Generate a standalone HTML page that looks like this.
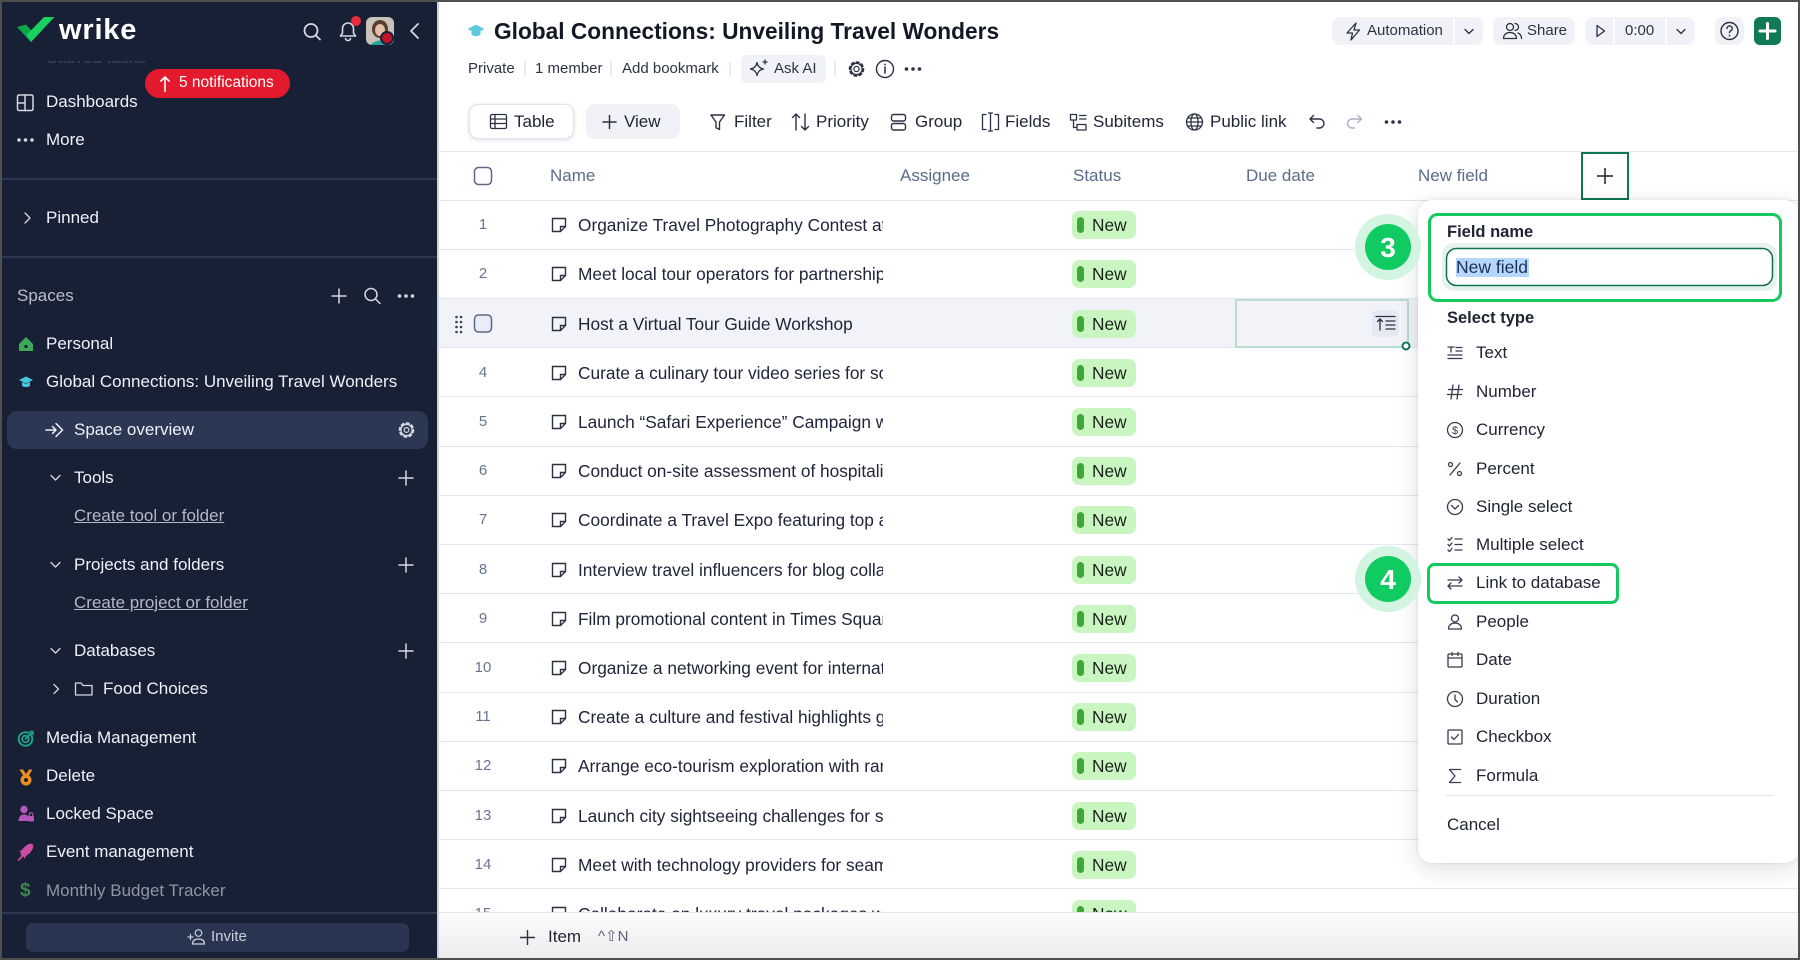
<!DOCTYPE html>
<html><head><meta charset="utf-8">
<style>
*{margin:0;padding:0;box-sizing:border-box}
body{width:1800px;height:960px;overflow:hidden;position:relative;background:#fff;font-family:"Liberation Sans",Arial,sans-serif}
.a{position:absolute;white-space:nowrap}
.s{font-size:17px;line-height:20px;color:#eef1f7}
.m{font-size:17px;line-height:20px;color:#1f2534}
.h{font-size:17px;line-height:20px;color:#5b6b8b}
.sm{font-size:15px;line-height:20px;color:#2c3344}
.row{position:absolute;left:439px;width:1361px;height:49.2px;border-bottom:1px solid #e4e7ef}
.row.hov{background:#f1f3f8}
.num{position:absolute;left:29px;width:30px;text-align:center;top:14.6px;font-size:15px;line-height:20px;color:#68748e}
.tx{position:absolute;left:139px;top:14.6px;width:305px;overflow:hidden;white-space:nowrap;font-size:17.3px;line-height:20px;color:#20263a}
.ti{position:absolute;left:112px;top:16.6px}
.pill{position:absolute;left:633px;top:10.6px;width:64px;height:28px;border-radius:7px;background:#c9f5c1}
.pill i{position:absolute;left:5px;top:6px;width:7px;height:16px;border-radius:3.5px;background:#40a636}
.pill b{position:absolute;left:20px;top:4px;font-weight:normal;font-size:17.3px;line-height:20px;color:#1b221b}
.pt{font-size:17px;line-height:20px;color:#1e2432}
</style></head><body>

<!-- ============ MAIN ROWS ============ -->
<div class="row" style="top:200.7px"><div class="num">1</div><svg class="ti" width="16" height="16"><path d="M1.5 1.5h13v8l-5 5h-8z M14.5 9.5h-5v5" fill="none" stroke="#2a3142" stroke-width="1.4"/></svg><div class="tx">Organize Travel Photography Contest at Iconic Landmarks</div><div class="pill"><i></i><b>New</b></div></div>
<div class="row" style="top:249.9px"><div class="num">2</div><svg class="ti" width="16" height="16"><path d="M1.5 1.5h13v8l-5 5h-8z M14.5 9.5h-5v5" fill="none" stroke="#2a3142" stroke-width="1.4"/></svg><div class="tx">Meet local tour operators for partnerships</div><div class="pill"><i></i><b>New</b></div></div>
<div class="row hov" style="top:299.1px"><svg class="ti" width="16" height="16"><path d="M1.5 1.5h13v8l-5 5h-8z M14.5 9.5h-5v5" fill="none" stroke="#2a3142" stroke-width="1.4"/></svg><div class="tx">Host a Virtual Tour Guide Workshop</div><div class="pill"><i></i><b>New</b></div></div>
<div class="row" style="top:348.3px"><div class="num">4</div><svg class="ti" width="16" height="16"><path d="M1.5 1.5h13v8l-5 5h-8z M14.5 9.5h-5v5" fill="none" stroke="#2a3142" stroke-width="1.4"/></svg><div class="tx">Curate a culinary tour video series for social media</div><div class="pill"><i></i><b>New</b></div></div>
<div class="row" style="top:397.5px"><div class="num">5</div><svg class="ti" width="16" height="16"><path d="M1.5 1.5h13v8l-5 5h-8z M14.5 9.5h-5v5" fill="none" stroke="#2a3142" stroke-width="1.4"/></svg><div class="tx">Launch “Safari Experience” Campaign with influencers</div><div class="pill"><i></i><b>New</b></div></div>
<div class="row" style="top:446.7px"><div class="num">6</div><svg class="ti" width="16" height="16"><path d="M1.5 1.5h13v8l-5 5h-8z M14.5 9.5h-5v5" fill="none" stroke="#2a3142" stroke-width="1.4"/></svg><div class="tx">Conduct on-site assessment of hospitality partners</div><div class="pill"><i></i><b>New</b></div></div>
<div class="row" style="top:495.9px"><div class="num">7</div><svg class="ti" width="16" height="16"><path d="M1.5 1.5h13v8l-5 5h-8z M14.5 9.5h-5v5" fill="none" stroke="#2a3142" stroke-width="1.4"/></svg><div class="tx">Coordinate a Travel Expo featuring top agencies</div><div class="pill"><i></i><b>New</b></div></div>
<div class="row" style="top:545.1px"><div class="num">8</div><svg class="ti" width="16" height="16"><path d="M1.5 1.5h13v8l-5 5h-8z M14.5 9.5h-5v5" fill="none" stroke="#2a3142" stroke-width="1.4"/></svg><div class="tx">Interview travel influencers for blog collaboration</div><div class="pill"><i></i><b>New</b></div></div>
<div class="row" style="top:594.3px"><div class="num">9</div><svg class="ti" width="16" height="16"><path d="M1.5 1.5h13v8l-5 5h-8z M14.5 9.5h-5v5" fill="none" stroke="#2a3142" stroke-width="1.4"/></svg><div class="tx">Film promotional content in Times Square</div><div class="pill"><i></i><b>New</b></div></div>
<div class="row" style="top:643.5px"><div class="num">10</div><svg class="ti" width="16" height="16"><path d="M1.5 1.5h13v8l-5 5h-8z M14.5 9.5h-5v5" fill="none" stroke="#2a3142" stroke-width="1.4"/></svg><div class="tx">Organize a networking event for international partners</div><div class="pill"><i></i><b>New</b></div></div>
<div class="row" style="top:692.7px"><div class="num">11</div><svg class="ti" width="16" height="16"><path d="M1.5 1.5h13v8l-5 5h-8z M14.5 9.5h-5v5" fill="none" stroke="#2a3142" stroke-width="1.4"/></svg><div class="tx">Create a culture and festival highlights guide</div><div class="pill"><i></i><b>New</b></div></div>
<div class="row" style="top:741.9px"><div class="num">12</div><svg class="ti" width="16" height="16"><path d="M1.5 1.5h13v8l-5 5h-8z M14.5 9.5h-5v5" fill="none" stroke="#2a3142" stroke-width="1.4"/></svg><div class="tx">Arrange eco-tourism exploration with rangers</div><div class="pill"><i></i><b>New</b></div></div>
<div class="row" style="top:791.1px"><div class="num">13</div><svg class="ti" width="16" height="16"><path d="M1.5 1.5h13v8l-5 5h-8z M14.5 9.5h-5v5" fill="none" stroke="#2a3142" stroke-width="1.4"/></svg><div class="tx">Launch city sightseeing challenges for students</div><div class="pill"><i></i><b>New</b></div></div>
<div class="row" style="top:840.3px"><div class="num">14</div><svg class="ti" width="16" height="16"><path d="M1.5 1.5h13v8l-5 5h-8z M14.5 9.5h-5v5" fill="none" stroke="#2a3142" stroke-width="1.4"/></svg><div class="tx">Meet with technology providers for seamless booking</div><div class="pill"><i></i><b>New</b></div></div>
<div class="row" style="top:889.5px"><div class="num">15</div><svg class="ti" width="16" height="16"><path d="M1.5 1.5h13v8l-5 5h-8z M14.5 9.5h-5v5" fill="none" stroke="#2a3142" stroke-width="1.4"/></svg><div class="tx">Collaborate on luxury travel packages with hotels</div><div class="pill"><i></i><b>New</b></div></div>

<!-- header lines -->
<div class="a" style="left:439px;top:151px;width:1361px;height:1px;background:#e4e7ef"></div>
<div class="a" style="left:439px;top:200px;width:1361px;height:1px;background:#e2e5ee"></div>

<!-- main svg icons -->
<svg class="a" style="left:0;top:0" width="1800" height="960" fill="none" stroke="#2a3142" stroke-width="1.5" stroke-linecap="round" stroke-linejoin="round">
 <path d="M469 29 L476 25.5 L483 29 L476 32.5 Z" fill="#5ccbe0" stroke="#5ccbe0"/>
 <path d="M472 31 v3.5 q4 2.2 8 0 v-3.5 l-4 2 z" fill="#5ccbe0" stroke="#5ccbe0" stroke-width="1"/>
 <g stroke="#d6d9e1" stroke-width="1"><path d="M525 62v14 M611 62v14 M730 62v14 M835 62v14"/></g>
 <rect x="741" y="55" width="85" height="28" rx="6" fill="#f0f2f7" stroke="none"/>
 <path d="M757 62.5 q1 5.5 6.5 6.5 q-5.5 1 -6.5 6.5 q-1 -5.5 -6.5 -6.5 q5.5 -1 6.5 -6.5z M765 60v4 M763 62h4" stroke-width="1.3"/>
 <circle cx="856.5" cy="69" r="2.6" stroke-width="1.3"/>
 <circle cx="856.5" cy="69" r="6.8" stroke-width="2" stroke-dasharray="2.4 2.9"/>
 <circle cx="856.5" cy="69" r="5.6" stroke-width="1.2"/>
 <circle cx="885" cy="69" r="8.5" stroke-width="1.4"/>
 <path d="M885 67v6 M885 64.3v0.3" stroke-width="1.6"/>
 <g fill="#2a3142" stroke="none"><circle cx="906.5" cy="69" r="1.8"/><circle cx="913" cy="69" r="1.8"/><circle cx="919.5" cy="69" r="1.8"/></g>

 <rect x="1332" y="17" width="151" height="28" rx="8" fill="#f0f2f7" stroke="none"/>
 <path d="M1454 17v28" stroke="#fff" stroke-width="1.5"/>
 <path d="M1356 23 L1347 33 h5.5 l-1.5 7 8.5 -10 h-5.5 z" stroke-width="1.3"/>
 <path d="M1465 29.5 l4 4 4 -4" stroke-width="1.3"/>
 <rect x="1493" y="17" width="82" height="28" rx="8" fill="#f0f2f7" stroke="none"/>
 <circle cx="1510" cy="27" r="3.5" stroke-width="1.3"/>
 <path d="M1503.5 38.5 c0-4 3-6 6.5-6 s6.5 2 6.5 6 z M1515 23.5 a3.5 3.5 0 0 1 0 7 M1518 33 c2 .8 3.5 2.5 3.5 5.5" stroke-width="1.3"/>
 <rect x="1585" y="17" width="110" height="28" rx="8" fill="#f0f2f7" stroke="none"/>
 <path d="M1614 17v28 M1666 17v28" stroke="#fff" stroke-width="1.5"/>
 <path d="M1597 25.5 v11 l7.5 -5.5 z" stroke-width="1.3"/>
 <path d="M1677 29.5 l4 4 4 -4" stroke-width="1.3"/>
 <rect x="1715" y="17" width="29" height="28" rx="8" fill="#f0f2f7" stroke="none"/>
 <circle cx="1729.5" cy="31" r="8.5" stroke-width="1.4"/>
 <path d="M1727 28.5 a2.6 2.6 0 1 1 3.6 2.4 c-.8.4 -1.1 .9 -1.1 1.8" stroke-width="1.4"/>
 <circle cx="1729.5" cy="35.6" r=".9" fill="#2a3142" stroke="none"/>
 <rect x="1754" y="17" width="27" height="28" rx="6" fill="#0f7a54" stroke="none"/>
 <path d="M1760 31h15 M1767.5 23.5v15" stroke="#fff" stroke-width="3"/>

 <rect x="586" y="104" width="94" height="35" rx="9" fill="#f0f2f7" stroke="none"/>
 <path d="M603 122h13 M609.5 115.5v13" stroke-width="1.5"/>
 <path d="M711 115 h13.5 l-5 7 v7.5 l-3.5 -1.8 v-5.7 z" stroke-width="1.4"/>
 <path d="M796 130V114 M792.5 117.5l3.5-3.5 3.5 3.5 M805 114v16 M801.5 126.5l3.5 3.5 3.5-3.5" stroke-width="1.4"/>
 <rect x="891.5" y="114.5" width="14" height="6.5" rx="2" stroke-width="1.4"/>
 <rect x="891.5" y="123.5" width="14" height="6.5" rx="2" stroke-width="1.4"/>
 <path d="M986 114.5h-3.5v15h3.5 M995 114.5h3.5v15h-3.5 M990.5 113v18 M988.5 113h4 M988.5 131h4" stroke-width="1.3"/>
 <path d="M1070.5 114.5h6v5.5h-6z M1073.5 120v7.5h3.5 M1079.5 115.5h6.5 M1079.5 119h6.5 M1077 124.5h9v5.5h-9z" stroke-width="1.3"/>
 <circle cx="1194.5" cy="122" r="8" stroke-width="1.3"/>
 <ellipse cx="1194.5" cy="122" rx="3.6" ry="8" stroke-width="1.3"/>
 <path d="M1186.5 122h16 M1188 118h13 M1188 126h13" stroke-width="1.2"/>
 <path d="M1313.5 115.5 l-3.5 3.5 3.5 3.5 M1310 119h9.5 a4.5 4.5 0 0 1 0 9 h-2.5" stroke-width="1.4"/>
 <path d="M1358 115.5 l3.5 3.5 -3.5 3.5 M1361.5 119h-9.5 a4.5 4.5 0 0 0 0 9 h2.5" stroke="#aab2c2" stroke-width="1.4"/>
 <g fill="#2a3142" stroke="none"><circle cx="1386.5" cy="122" r="1.8"/><circle cx="1393" cy="122" r="1.8"/><circle cx="1399.5" cy="122" r="1.8"/></g>

 <rect x="474.5" y="167.5" width="17" height="17" rx="4" stroke="#5b6884" stroke-width="1.5"/>

 <g fill="#3a4154" stroke="none">
  <circle cx="456.5" cy="317" r="1.3"/><circle cx="461" cy="317" r="1.3"/>
  <circle cx="456.5" cy="322" r="1.3"/><circle cx="461" cy="322" r="1.3"/>
  <circle cx="456.5" cy="327" r="1.3"/><circle cx="461" cy="327" r="1.3"/>
  <circle cx="456.5" cy="332" r="1.3"/><circle cx="461" cy="332" r="1.3"/>
 </g>
 <rect x="474.5" y="315" width="17" height="17" rx="4" fill="#e9edf7" stroke="#5b6884" stroke-width="1.5"/>
 <rect x="1236" y="300" width="172" height="47" fill="none" stroke="#b9dccf" stroke-width="2"/>
 <rect x="1372" y="310" width="27" height="27" rx="5" fill="#e5e9f2" stroke="none"/>
 <path d="M1376 316.5h19 M1380 330v-11 M1377.5 321.5l2.5-2.5 2.5 2.5 M1386 321h9 M1386 325h9 M1386 329h9" stroke-width="1.3"/>
 <circle cx="1406" cy="346" r="3.5" fill="#fff" stroke="#13785a" stroke-width="2"/>
</svg>

<div class="a" style="left:469px;top:104px;width:105px;height:35px;border-radius:9px;background:#fff;border:1px solid #dfe3ec;box-shadow:0 1px 4px rgba(40,60,120,.18)"></div>
<svg class="a" style="left:489px;top:113px" width="20" height="18" fill="none" stroke="#2a3142" stroke-width="1.3"><rect x="1.5" y="1.5" width="16" height="14" rx="1.5"/><path d="M1.5 6h16 M1.5 10.5h16 M6 1.5v14"/></svg>

<div class="a" style="left:494px;top:18px;font-size:22.7px;line-height:26px;font-weight:bold;color:#121826">Global Connections: Unveiling Travel Wonders</div>
<div class="a sm" style="left:468px;top:59px">Private</div>
<div class="a sm" style="left:535px;top:59px">1 member</div>
<div class="a sm" style="left:622px;top:59px">Add bookmark</div>
<div class="a sm" style="left:774px;top:59px">Ask AI</div>
<div class="a sm" style="left:1367px;top:21px">Automation</div>
<div class="a sm" style="left:1527px;top:21px">Share</div>
<div class="a sm" style="left:1625px;top:21px">0:00</div>
<div class="a m" style="left:514px;top:112px">Table</div>
<div class="a m" style="left:624px;top:112px">View</div>
<div class="a m" style="left:734px;top:112px">Filter</div>
<div class="a m" style="left:816px;top:112px">Priority</div>
<div class="a m" style="left:915px;top:112px">Group</div>
<div class="a m" style="left:1005px;top:112px">Fields</div>
<div class="a m" style="left:1093px;top:112px">Subitems</div>
<div class="a m" style="left:1210px;top:112px">Public link</div>

<div class="a h" style="left:550px;top:166px">Name</div>
<div class="a h" style="left:900px;top:166px">Assignee</div>
<div class="a h" style="left:1073px;top:166px">Status</div>
<div class="a h" style="left:1246px;top:166px">Due date</div>
<div class="a h" style="left:1418px;top:166px">New field</div>
<svg class="a" style="left:1581px;top:152px" width="48" height="48"><rect x="1" y="1" width="46" height="46" fill="#fff" stroke="#10784f" stroke-width="2"/><path d="M16 24h16 M24 16v16" stroke="#222" stroke-width="1.5"/></svg>

<div class="a" style="left:439px;top:912px;width:1361px;height:48px;background:linear-gradient(180deg,#fbfbfc,#ececee);border-top:1px solid #e0e3ea"></div>
<svg class="a" style="left:519px;top:929px" width="17" height="17"><path d="M1 8.5h15 M8.5 1v15" stroke="#2a3142" stroke-width="1.4"/></svg>
<div class="a m" style="left:548px;top:927px">Item</div>
<div class="a" style="left:598px;top:927px;font-size:15px;line-height:20px;color:#5c6477">^⇧N</div>

<!-- ============ PANEL ============ -->
<div class="a" style="left:1418px;top:200px;width:381px;height:663px;border-radius:14px;background:#fff;box-shadow:0 6px 24px rgba(20,30,60,.14),0 0 3px rgba(20,30,60,.10)"></div>
<svg class="a" style="left:0;top:0" width="1800" height="960" fill="none" stroke="#353c4d" stroke-width="1.3" stroke-linecap="round" stroke-linejoin="round">
 <rect x="1429.5" y="214.5" width="351" height="86" rx="8" stroke="#14c95e" stroke-width="3"/>
 <rect x="1442" y="243" width="335" height="48" rx="12" fill="#e7f2ed" stroke="none"/>
 <rect x="1446.5" y="248.5" width="326" height="37" rx="10" fill="#fff" stroke="#13704d" stroke-width="1.5"/>
 <rect x="1456" y="258" width="73" height="19" fill="#b5d6fd" stroke="none"/>
 <rect x="1428.5" y="564.5" width="189" height="38" rx="6" stroke="#14c95e" stroke-width="3"/>
 <path d="M1446 795.5h327" stroke="#dfe2ea" stroke-width="1"/>
 <g transform="translate(1446 344)"><path d="M2 3h6 M5 3v5 M10 3.5h6 M10 7h6 M2 11h14 M2 14.5h14"/></g>
 <g transform="translate(1446 383)"><path d="M7 2 L5 16 M13 2 L11 16 M2.5 6.5h14 M1.5 11.5h14"/></g>
 <g transform="translate(1446 421)"><circle cx="9" cy="9" r="7.5"/><text x="9" y="13" font-size="11" text-anchor="middle" fill="#353c4d" stroke="none" font-family="Liberation Sans">$</text></g>
 <g transform="translate(1446 460)"><circle cx="4.5" cy="4.5" r="2"/><circle cx="13.5" cy="13.5" r="2"/><path d="M14 3 L4 15"/></g>
 <g transform="translate(1446 498)"><circle cx="9" cy="9" r="7.5"/><path d="M5.5 7.5 L9 11 L12.5 7.5"/></g>
 <g transform="translate(1446 536)"><path d="M2 3 l1.5 1.5 2.5-3 M2 8.5 l1.5 1.5 2.5-3 M2 14 l1.5 1.5 2.5-3 M9 3h7 M9 8.5h7 M9 14h7"/></g>
 <g transform="translate(1446 574)"><path d="M2 6h14 M13 3l3 3-3 3 M16 12H2 M5 9l-3 3 3 3"/></g>
 <g transform="translate(1446 613)"><circle cx="9" cy="5.5" r="3.5"/><path d="M2.5 16 c0-4 3-6 6.5-6 s6.5 2 6.5 6 z"/></g>
 <g transform="translate(1446 651)"><rect x="2" y="3" width="14" height="13" rx="1"/><path d="M2 7h14 M6 1.5v3 M12 1.5v3"/></g>
 <g transform="translate(1446 690)"><circle cx="9" cy="9" r="7.5"/><path d="M9 5v4.5l2.5 2.5"/></g>
 <g transform="translate(1446 728)"><rect x="2" y="2" width="14" height="14" rx="1"/><path d="M5.5 9l2.5 2.5 4.5-5"/></g>
 <g transform="translate(1446 767)"><path d="M14.5 2.5H3.5l5.5 6.5-5.5 6.5h11"/></g>
</svg>
<div class="a" style="left:1447px;top:222px;font-size:16.5px;line-height:20px;font-weight:bold;color:#1e2432">Field name</div>
<div class="a" style="left:1456px;top:257px;font-size:17.5px;line-height:20px;color:#1c3152">New field</div>
<div class="a" style="left:1447px;top:308px;font-size:16.5px;line-height:20px;font-weight:bold;color:#1e2432">Select type</div>
<div class="a pt" style="left:1476px;top:343px">Text</div>
<div class="a pt" style="left:1476px;top:382px">Number</div>
<div class="a pt" style="left:1476px;top:420px">Currency</div>
<div class="a pt" style="left:1476px;top:459px">Percent</div>
<div class="a pt" style="left:1476px;top:497px">Single select</div>
<div class="a pt" style="left:1476px;top:535px">Multiple select</div>
<div class="a pt" style="left:1476px;top:573px">Link to database</div>
<div class="a pt" style="left:1476px;top:612px">People</div>
<div class="a pt" style="left:1476px;top:650px">Date</div>
<div class="a pt" style="left:1476px;top:689px">Duration</div>
<div class="a pt" style="left:1476px;top:727px">Checkbox</div>
<div class="a pt" style="left:1476px;top:766px">Formula</div>
<div class="a pt" style="left:1447px;top:815px">Cancel</div>

<svg class="a" style="left:0;top:0" width="1800" height="960">
 <circle cx="1388" cy="247" r="33" fill="#d3f4e1"/>
 <circle cx="1388" cy="247" r="23" fill="#0fcb62"/>
 <text x="1388" y="257" font-size="28" font-weight="bold" fill="#fff" text-anchor="middle" font-family="Liberation Sans">3</text>
 <circle cx="1388" cy="579" r="33" fill="#d3f4e1"/>
 <circle cx="1388" cy="579" r="23" fill="#0fcb62"/>
 <text x="1388" y="589" font-size="28" font-weight="bold" fill="#fff" text-anchor="middle" font-family="Liberation Sans">4</text>
</svg>

<!-- ============ SIDEBAR ============ -->
<div class="a" style="left:0;top:0;width:438px;height:960px;background:#182036"></div>
<div class="a" style="left:437px;top:0;width:2px;height:960px;background:#cfd3da"></div>
<div class="a" style="left:17px;top:61px;height:9px;width:140px;overflow:hidden"><div style="position:absolute;top:-13px;left:29px;font-size:17px;line-height:20px;color:#3d4659;white-space:nowrap">Starred tasks</div></div>
<svg class="a" style="left:0;top:0" width="438" height="960" fill="none" stroke="#d3d8e1" stroke-width="1.5" stroke-linecap="round" stroke-linejoin="round">
 <path d="M17 27 L26 24.5 L35 34.5 L31 42 Z" fill="#0ba64b" stroke="none"/>
 <path d="M31 42 L26.5 35 L44 17 L54.5 17 Z" fill="#18d160" stroke="none"/>
 <circle cx="311" cy="30.5" r="6.5" stroke-width="1.8"/>
 <path d="M316 35.5 L320 39.5" stroke-width="1.8"/>
 <path d="M340.5 36 h15 l-2 -3 v-4.5 a5.5 5.5 0 0 0 -11 0 v4.5 z M345.5 38.5 a2.5 2 0 0 0 5 0" stroke-width="1.6"/>
 <circle cx="356" cy="21" r="5" fill="#ea2a3f" stroke="none"/>
 <rect x="366" y="17" width="28" height="28" rx="6" fill="#c9c2b8" stroke="none"/>
 <ellipse cx="380" cy="29" rx="8" ry="9" fill="#5a3d2e" stroke="none"/>
 <ellipse cx="380" cy="30" rx="5" ry="6" fill="#e4c2a6" stroke="none"/>
 <path d="M370 45 q10 -9 20 0 z" fill="#2aa39a" stroke="none"/>
 <circle cx="387" cy="38" r="6" fill="#c3112c" stroke="#182036" stroke-width="2"/>
 <path d="M418 24 L411 31 L418 38" stroke-width="1.8"/>
 <rect x="17.5" y="95" width="15.5" height="15.5" rx="1.5"/>
 <path d="M25 95v15.5 M17.5 103h7.5"/>
 <g fill="#d3d8e1" stroke="none"><circle cx="19" cy="140" r="1.8"/><circle cx="25.5" cy="140" r="1.8"/><circle cx="32" cy="140" r="1.8"/></g>
 <rect x="0" y="178" width="437" height="2" fill="#2c3852" stroke="none"/>
 <path d="M25 213 L30 218 L25 223" stroke-width="1.3"/>
 <rect x="0" y="256" width="437" height="2" fill="#2c3852" stroke="none"/>
 <path d="M332 296h14 M339 289v14"/>
 <circle cx="371" cy="294.5" r="6"/><path d="M375.5 299 L380 303.5"/>
 <g fill="#d3d8e1" stroke="none"><circle cx="399.5" cy="296" r="1.8"/><circle cx="406" cy="296" r="1.8"/><circle cx="412.5" cy="296" r="1.8"/></g>
 <path d="M19 344 L26 337 L33 344 V351 H19 Z" fill="#3ea958" stroke="none"/>
 <rect x="24.5" y="345" width="3" height="3" fill="#182036" stroke="none"/>
 <path d="M19 380 L26 376.5 L33 380 L26 383.5 Z" fill="#48c6dc" stroke="none"/>
 <path d="M22 382 v4 q4 2.2 8 0 v-4 l-4 2 z" fill="#48c6dc" stroke="none"/>
 <rect x="7" y="411" width="421" height="38" rx="10" fill="#2b3753" stroke="none"/>
 <path d="M46 430h10 M52.5 426.5l3.5 3.5-3.5 3.5 M56 423.5 L62.5 430 L56 436.5" stroke="#eef1f7"/>
 <circle cx="406.5" cy="430" r="2.4" stroke-width="1.2"/>
 <circle cx="406.5" cy="430" r="6.8" stroke-width="2" stroke-dasharray="2.4 2.9"/>
 <circle cx="406.5" cy="430" r="5.6" stroke-width="1.2"/>
 <path d="M51 475.5 l4.5 4.5 4.5-4.5" stroke-width="1.3"/>
 <path d="M399 478h14 M406 471v14"/>
 <path d="M51 562.5 l4.5 4.5 4.5-4.5" stroke-width="1.3"/>
 <path d="M399 565h14 M406 558v14"/>
 <path d="M51 648.5 l4.5 4.5 4.5-4.5" stroke-width="1.3"/>
 <path d="M399 651h14 M406 644v14"/>
 <path d="M54 684.5 l4.5 4.5 -4.5 4.5" stroke-width="1.3"/>
 <path d="M75.5 683 h5.5 l2 2.5 h9 v9.5 h-16.5 z" stroke-width="1.3"/>
 <circle cx="25.5" cy="739" r="6.8" stroke="#1ea187" stroke-width="2"/>
 <circle cx="25.5" cy="739" r="3.3" stroke="#1ea187" stroke-width="1.8"/>
 <path d="M25.5 739 L32 732.5 M30 731.5 h3 v3" stroke="#1ea187" stroke-width="1.6"/>
 <path d="M19.5 769.5 h3.5 l3 4.5 3-4.5 h3.5 l-4 6.5 h-5 z" fill="#ef8e22" stroke="none"/>
 <circle cx="26" cy="780" r="5.5" fill="#ef8e22" stroke="none"/>
 <circle cx="26" cy="780" r="2" fill="#182036" stroke="none"/>
 <circle cx="24" cy="809.5" r="3.7" fill="#b457b9" stroke="none"/>
 <path d="M18.5 821 c0-4.5 2.5-6.5 5.5-6.5 s3.5 1 4 2 v4.5 z" fill="#b457b9" stroke="none"/>
 <rect x="28" y="816" width="6" height="5.5" rx="1" fill="#b457b9" stroke="none"/>
 <path d="M29.2 816 v-1.5 a1.8 1.8 0 0 1 3.6 0 v1.5" stroke="#b457b9" stroke-width="1.2"/>
 <ellipse cx="27" cy="850" rx="8" ry="4" transform="rotate(-45 27 850)" fill="#c94ea3" stroke="none"/>
 <path d="M19 852 l4 -3 2 4 z M24 859 l3 -4 -4 -2 z" fill="#c94ea3" stroke="none"/>
 <path d="M18.5 860 l4 -4" stroke="#c94ea3" stroke-width="1.6"/>
 <rect x="0" y="912" width="437" height="2" fill="#2c3852" stroke="none"/>
 <rect x="26" y="923" width="383" height="29" rx="7" fill="#2a3651" stroke="none"/>
 <path d="M188 937h5 M190.5 934.5v5" stroke="#c9cfda" stroke-width="1.2"/>
 <circle cx="198.5" cy="933" r="3.3" stroke="#c9cfda" stroke-width="1.2"/>
 <path d="M192.5 944 c0-3.5 2.5-5 6-5 s6 1.5 6 5 z" stroke="#c9cfda" stroke-width="1.2"/>
</svg>
<div class="a" style="left:59px;top:15px;font-size:29px;line-height:30px;font-weight:bold;color:#fff;letter-spacing:.8px">wrike</div>
<div class="a" style="left:145px;top:69px;width:145px;height:29px;border-radius:15px;background:#e3192d"></div>
<svg class="a" style="left:158px;top:75px" width="14" height="18"><path d="M7 17V2 M2.5 6.5 L7 2 L11.5 6.5" fill="none" stroke="#fff" stroke-width="1.6"/></svg>
<div class="a" style="left:179px;top:73px;font-size:15.5px;line-height:20px;color:#fff">5 notifications</div>
<div class="a s" style="left:46px;top:92px">Dashboards</div>
<div class="a s" style="left:46px;top:130px">More</div>
<div class="a s" style="left:46px;top:208px">Pinned</div>
<div class="a s" style="left:17px;top:286px;color:#b8bfcb">Spaces</div>
<div class="a s" style="left:46px;top:334px">Personal</div>
<div class="a s" style="left:46px;top:372px">Global Connections: Unveiling Travel Wonders</div>
<div class="a s" style="left:74px;top:420px">Space overview</div>
<div class="a s" style="left:74px;top:468px">Tools</div>
<div class="a s" style="left:74px;top:506px;color:#b1b8c6;text-decoration:underline">Create tool or folder</div>
<div class="a s" style="left:74px;top:555px">Projects and folders</div>
<div class="a s" style="left:74px;top:593px;color:#b1b8c6;text-decoration:underline">Create project or folder</div>
<div class="a s" style="left:74px;top:641px">Databases</div>
<div class="a s" style="left:103px;top:679px">Food Choices</div>
<div class="a s" style="left:46px;top:728px">Media Management</div>
<div class="a s" style="left:46px;top:766px">Delete</div>
<div class="a s" style="left:46px;top:804px">Locked Space</div>
<div class="a s" style="left:46px;top:842px">Event management</div>
<div class="a" style="left:20px;top:880px;font-size:19px;line-height:22px;font-weight:bold;color:#3a8a4c">$</div>
<div class="a s" style="left:46px;top:881px;color:#8d95a6">Monthly Budget Tracker</div>
<div class="a" style="left:211px;top:927px;font-size:15px;line-height:20px;color:#c9cfda">Invite</div>

<div class="a" style="left:0;top:0;width:1800px;height:960px;border:2px solid #505050"></div>
</body></html>
